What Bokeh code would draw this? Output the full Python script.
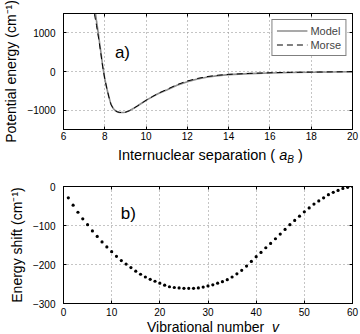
from bokeh.plotting import figure
from bokeh.layouts import column
from bokeh.models import Range1d, LinearAxis, FixedTicker, Label, Div
from bokeh.embed import file_html
from bokeh.resources import INLINE

# ---------------- data ----------------
# panel a) potential curves
r_model = [7.50, 7.60, 7.70, 7.80, 7.90, 8.00, 8.10, 8.20, 8.30, 8.40, 8.50, 8.60,
           8.70, 8.80, 8.90, 9.00, 9.10, 9.20, 9.40, 9.60, 9.80, 10.0, 10.3, 10.6,
           11.0, 11.5, 12.0, 12.5, 13.0, 13.5, 14.0, 15.0, 16.0, 17.0, 18.0, 19.0, 20.0]
v_model = [1700, 1300, 930, 540, 140, -190, -440, -660, -850, -950, -1010, -1042,
           -1057, -1062, -1062, -1052, -1035, -1012, -952, -885, -815, -745, -655, -570,
           -478, -355, -262, -192, -142, -106, -82, -56, -38, -26, -18, -12, -8]
r_morse = [7.45, 7.50, 7.60, 7.70, 7.80, 7.90, 8.00, 8.10, 8.20, 8.30, 8.40, 8.50, 8.60,
           8.70, 8.80, 8.90, 9.00, 9.10, 9.20, 9.40, 9.60, 9.80, 10.0, 10.3, 10.6,
           11.0, 11.5, 12.0, 12.5, 13.0, 13.5, 14.0, 15.0, 16.0, 17.0, 18.0, 19.0, 20.0]
v_morse = [1750, 1480, 1190, 860, 500, 120, -190, -440, -660, -850, -950, -1010, -1042,
           -1057, -1062, -1062, -1052, -1035, -1012, -952, -885, -815, -745, -652, -562,
           -465, -340, -245, -178, -128, -96, -74, -50, -33, -22, -15, -10, -6]

# panel b) energy shift vs vibrational number
vib = list(range(1, 61))
shift = [-29, -48, -66, -83, -98, -114, -128, -142, -155, -167,
         -179, -190, -199, -208, -217, -225, -232, -238, -243, -248,
         -253, -257, -259, -260, -261, -261, -261, -260, -258, -255,
         -252, -248, -244, -239, -232, -224, -215, -204, -192, -180,
         -169, -157, -146, -134, -122, -110, -98, -87, -76, -65,
         -55, -45, -37, -29, -21, -15, -10, -5, -2, 0]

a_xticks = [6, 8, 10, 12, 14, 16, 18, 20]
a_yticks = [-1000, 0, 1000]
a_ylabels = ["\u22121000", "0", "1000"]
b_xticks = [0, 10, 20, 30, 40, 50, 60]
b_yticks = [-300, -200, -100, 0]
b_ylabels = ["\u2212300", "\u2212200", "\u2212100", "0"]

FONT = "Liberation Sans"
GRID = "#8a8a8a"


def style_axis(ax, ticks, labels=None, show=True):
    ax.ticker = FixedTicker(ticks=ticks)
    ax.major_tick_in = 3
    ax.major_tick_out = 0
    ax.minor_tick_line_color = None
    ax.axis_line_color = "black"
    ax.major_tick_line_color = "black"
    ax.major_label_text_font = FONT
    ax.major_label_text_color = "black"
    ax.axis_label_text_font = FONT
    ax.axis_label_text_font_style = "normal"
    ax.axis_label_text_font_size = "14px"
    ax.axis_label_text_color = "black"
    if labels is not None:
        ax.major_label_overrides = dict(zip(ticks, labels))
    if show:
        ax.major_label_text_font_size = "10px"
    else:
        ax.major_label_text_font_size = "0px"
        ax.major_label_text_color = None
        ax.major_label_standoff = 0


def make_fig(xr, yr, height, top, bottom):
    p = figure(width=360, height=height, x_range=Range1d(*xr), y_range=Range1d(*yr),
               output_backend="svg", toolbar_location=None,
               min_border_left=60, min_border_right=8,
               min_border_top=top, min_border_bottom=bottom)
    p.outline_line_color = "black"
    p.background_fill_color = "white"
    p.border_fill_color = "white"
    for g in (p.xgrid[0], p.ygrid[0]):
        g.grid_line_color = GRID
        g.grid_line_dash = "1 3"
        g.grid_line_width = 1
    return p


def text_label(x, y, text, size="17px"):
    return Label(x=x, y=y, text=text, text_font=FONT, text_font_size=size,
                 text_align="left", text_baseline="middle", text_color="black")


def xlabel_div(html, height, left, size, line_height, pad_top=0):
    inner = ('<div style="font-family:\'Liberation Sans\'; font-size:%s; color:black; '
             'line-height:%dpx; padding-left:%dpx; padding-top:%dpx; white-space:nowrap;">%s</div>'
             % (size, line_height, left, pad_top, html))
    return Div(text=inner, width=360, height=height, margin=0)


# ---------------- panel a ----------------
p1 = make_fig((6, 20), (-1500, 1500), 145, 13, 16)
p1.xgrid[0].ticker = FixedTicker(ticks=a_xticks)
p1.ygrid[0].ticker = FixedTicker(ticks=a_yticks)
style_axis(p1.xaxis[0], a_xticks)
p1.xaxis[0].major_label_standoff = 2
style_axis(p1.yaxis[0], a_yticks, a_ylabels)
p1.yaxis[0].major_label_standoff = 8
p1.yaxis[0].axis_label_standoff = 5
p1.yaxis[0].axis_label = "Potential energy (cm\u207b\u00b9)"
ax_top = LinearAxis()
style_axis(ax_top, a_xticks, show=False)
p1.add_layout(ax_top, "above")
ax_right = LinearAxis()
style_axis(ax_right, a_yticks, show=False)
p1.add_layout(ax_right, "right")

p1.line(r_model, v_model, line_color="#8c8c8c", line_width=1.6, legend_label="Model")
p1.line(r_morse, v_morse, line_color="black", line_width=1, line_dash="6 4",
        legend_label="Morse")

lg = p1.legend[0]
lg.location = "top_right"
lg.margin = 6
lg.padding = 4
lg.spacing = 1
lg.glyph_width = 31
lg.glyph_height = 13
lg.label_height = 13
lg.label_standoff = 3
lg.label_text_font = FONT
lg.label_text_font_size = "11px"
lg.border_line_color = "black"
lg.border_line_width = 1
lg.background_fill_alpha = 1

p1.add_layout(text_label(8.49, 491, "a)"))

xlab1 = xlabel_div('Internuclear separation ( <i>a</i><span style="font-size:10px; '
                   'font-style:italic; position:relative; top:3px;">B</span> )',
                   20, 118, "14.5px", 20)

# ---------------- panel b ----------------
p2 = make_fig((0, 60), (-300, 0), 154, 21, 16)
p2.xgrid[0].ticker = FixedTicker(ticks=b_xticks)
p2.ygrid[0].ticker = FixedTicker(ticks=b_yticks)
style_axis(p2.xaxis[0], b_xticks)
p2.xaxis[0].major_label_standoff = 4
style_axis(p2.yaxis[0], b_yticks, b_ylabels)
p2.yaxis[0].major_label_standoff = 8
p2.yaxis[0].axis_label_standoff = 5
p2.yaxis[0].axis_label = "Energy shift (cm\u207b\u00b9)"
bx_top = LinearAxis()
style_axis(bx_top, b_xticks, show=False)
p2.add_layout(bx_top, "above")
bx_right = LinearAxis()
style_axis(bx_right, b_yticks, show=False)
p2.add_layout(bx_right, "right")

p2.scatter(vib, shift, size=3.2, marker="circle", fill_color="black", line_color=None)

p2.add_layout(text_label(11.9, -70.5, "b)"))

xlab2 = xlabel_div('Vibrational number&nbsp; <i>v</i>', 15, 147, "14px", 15, 1)

layout = column(p1, xlab1, p2, xlab2, spacing=0)
open("out.html", "w").write(file_html(layout, INLINE))
